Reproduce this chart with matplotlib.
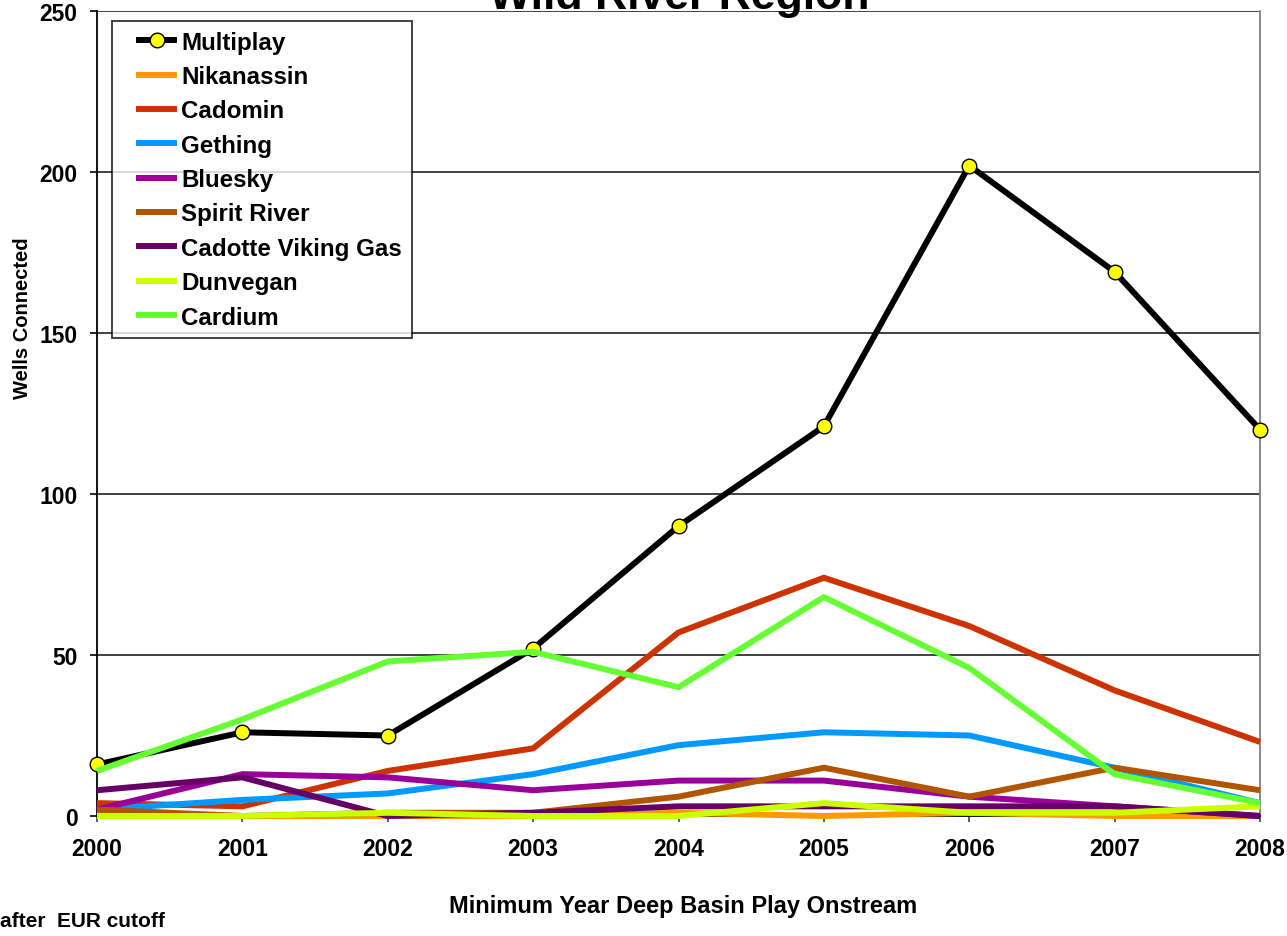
import matplotlib.pyplot as plt
from matplotlib.legend_handler import HandlerLine2D
import numpy as np

plt.rcParams["font.family"] = ["Liberation Sans", "DejaVu Sans"]
plt.rcParams["font.weight"] = "bold"

# ---- data: wells connected per play, by onstream year ----
years = ["2000", "2001", "2002", "2003", "2004", "2005", "2006", "2007", "2008"]

multiplay = [16, 26, 25, 52, 90, 121, 202, 169, 120]
nikanassin = [1, 0, 0, 0, 1, 0, 1, 0, 0]
cadomin = [4, 3, 14, 21, 57, 74, 59, 39, 23]
gething = [2, 5, 7, 13, 22, 26, 25, 15, 4]
bluesky = [2, 13, 12, 8, 11, 11, 6, 3, 0]
spirit_river = [2, 0, 1, 1, 6, 15, 6, 15, 8]
cadotte_viking = [8, 12, 0, 1, 3, 3, 3, 3, 0]
dunvegan = [0, 0, 1, 0, 0, 4, 1, 1, 3]
cardium = [14, 30, 48, 51, 40, 68, 46, 13, 4]

series = [
    ("Nikanassin", nikanassin, "#FF9900"),
    ("Cadomin", cadomin, "#CC3300"),
    ("Gething", gething, "#0099FF"),
    ("Bluesky", bluesky, "#990099"),
    ("Spirit River", spirit_river, "#B05500"),
    ("Cadotte Viking Gas", cadotte_viking, "#660066"),
    ("Dunvegan", dunvegan, "#CCFF00"),
    ("Cardium", cardium, "#66FF33"),
]

x = np.arange(len(years))
LW = 4.3

fig = plt.figure(figsize=(12.87, 9.37), dpi=100)
ax = fig.add_axes([97 / 1287, 120 / 937, 1163 / 1287, 805 / 937])

ax.plot(x, multiplay, color="black", lw=LW, marker="o", markersize=10.5,
        markerfacecolor="#FFFF00", markeredgecolor="black", markeredgewidth=1,
        label="Multiplay", zorder=3, clip_on=False,
        solid_joinstyle="round", solid_capstyle="butt")
for name, vals, col in series:
    ax.plot(x, vals, color=col, lw=LW, label=name, zorder=3, clip_on=False,
            solid_joinstyle="round", solid_capstyle="butt")

ax.set_xlim(0, 8)
ax.set_ylim(0, 250)
ax.set_xticks(x)
ax.set_xticklabels(years)
ax.set_yticks(np.arange(0, 251, 50))
ax.yaxis.grid(True, color="#202020", lw=1.2)
ax.set_axisbelow(True)

for side in ["left", "bottom"]:
    ax.spines[side].set_linewidth(1.3)
ax.spines["right"].set_color("#808080")
ax.spines["right"].set_linewidth(1.3)
ax.spines["top"].set_visible(False)

ax.tick_params(axis="both", labelsize=16.5, width=1.2, direction="out")
ax.tick_params(axis="y", length=5, pad=9)
ax.tick_params(axis="x", length=4, pad=11, color="#404040")

# legend box sits in the upper-left corner, handles inset from the frame
leg = ax.legend(loc="upper left", bbox_to_anchor=(15 / 1163, 1 - 10 / 805),
                fontsize=17.4, frameon=True, fancybox=False, edgecolor="black",
                handlelength=2.3, handletextpad=0.17, labelspacing=0.47,
                borderpad=0.4, borderaxespad=0,
                handler_map={l: HandlerLine2D(xpad=0.6) for l in ax.get_lines()})
leg.get_frame().set_linewidth(1.3)

fig.text(679 / 1287, 0.99, "Wild River Region", ha="center", va="baseline",
         fontsize=32, fontweight="bold")
fig.text(683 / 1287, 1 - 907 / 937, "Minimum Year Deep Basin Play Onstream",
         ha="center", va="center", fontsize=17)
fig.text(22 / 1287, 1 - 318 / 937, "Wells Connected", ha="center",
         va="center", rotation=90, fontsize=14.5)
fig.text(0.0, 1 - 922 / 937, "after  EUR cutoff", ha="left", va="center",
         fontsize=15)

fig.savefig("out.png", dpi=100)
